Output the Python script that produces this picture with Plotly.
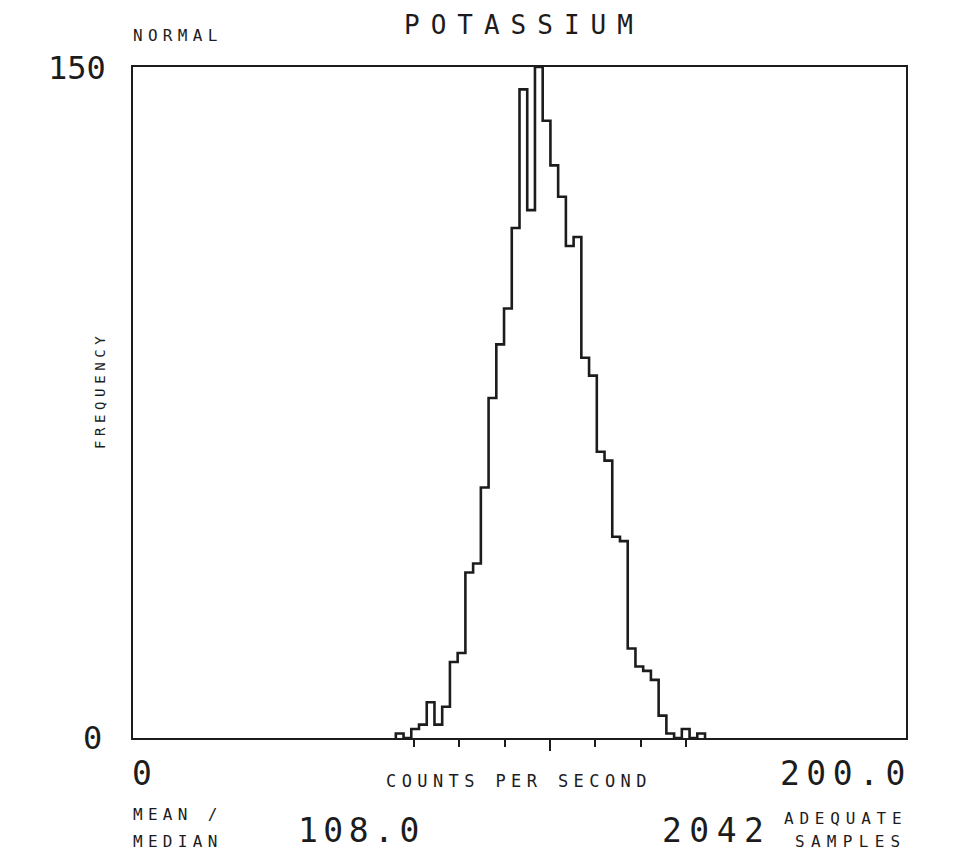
import plotly.graph_objects as go

# ---- data ----
bin_left_edges = list(range(68, 148, 2))          # counts per second, bin starts
bin_width = 2
frequency = [1, 0, 2, 3, 8, 3, 7, 17, 19, 37,
             39, 56, 76, 88, 96, 114, 145, 118, 150, 138,
             128, 121, 110, 112, 85, 81, 64, 62, 45, 44,
             20, 16, 15, 13, 5, 1, 0, 2, 0, 1]
x_range = [0, 200.0]
y_range = [0, 150]
mean_median = 108.0
sd_ticks = [72.7, 84.4, 96.2, 119.6, 131.5, 143.2]
adequate_samples = 2042

# ---- step outline built from the data ----
edges = bin_left_edges + [bin_left_edges[-1] + bin_width]
step_x = [edges[0]] + bin_left_edges + [edges[-1]]
step_y = [0] + frequency + [0]

INK = "#1c1c1c"
FONT = "DejaVu Sans Mono"

fig = go.Figure()
fig.add_trace(go.Scatter(x=step_x, y=step_y, mode="lines",
                         line=dict(shape="hv", color=INK, width=2.6),
                         hoverinfo="skip", showlegend=False))
# invisible trace to activate the mean-tick axis
fig.add_trace(go.Scatter(x=[mean_median], y=[0], xaxis="x2", mode="markers",
                         marker=dict(opacity=0), hoverinfo="skip", showlegend=False))

BODY = 8                       # default page margin around the plot div
L, R, T, B = 125, 49, 59, 125
W, H = 947, 855
PW, PH = W - L - R, H - T - B


def px(xp):
    return (xp - BODY - L) / PW


def py(yp):
    return (BODY + T + PH - yp) / PH


def label(text, x, y, size, spacing, xanchor="left", angle=0):
    return dict(text=f'<span style="letter-spacing:{spacing}px">{text}</span>',
                x=px(x), y=py(y), xref="paper", yref="paper",
                xanchor=xanchor, yanchor="middle", showarrow=False,
                textangle=angle, font=dict(family=FONT, size=size, color=INK))


annotations = [
    label("NORMAL", 131, 35, 16, 5.3),
    label("POTASSIUM", 524, 25, 26, 11.0, "center"),
    label(f"{y_range[1]}", 108, 68, 32, 0, "right"),
    label(f"{y_range[0]}", 104, 738, 32, 0, "right"),
    label("FREQUENCY", 100, 391, 14, 4.6, "center", -90),
    label(f"{x_range[0]}", 130, 773, 33, 6, "left"),
    label("COUNTS PER SECOND", 519, 781, 17, 5.4, "center"),
    label(f"{x_range[1]:.1f}", 914, 773, 33, 6.5, "right"),
    label("MEAN /", 131, 815, 16, 5.3),
    label("MEDIAN", 131, 841, 16, 5.3),
    label(f"{mean_median:.1f}", 296, 830, 33, 5.5),
    label(f"{adequate_samples}", 660, 830, 33, 7.5),
    label("ADEQUATE", 909, 818, 16, 5.8, "right"),
    label("SAMPLES", 909, 841, 16, 6.3, "right"),
]

fig.update_layout(
    width=W, height=H,
    margin=dict(l=L, r=R, t=T, b=B),
    paper_bgcolor="white", plot_bgcolor="white",
    showlegend=False,
    xaxis=dict(range=x_range, showgrid=False, zeroline=False,
               showline=True, linecolor=INK, linewidth=1.6, mirror=True,
               tickvals=sd_ticks, ticks="outside", ticklen=7, tickwidth=1.6,
               tickcolor=INK, showticklabels=False),
    xaxis2=dict(range=x_range, overlaying="x", anchor="y", side="bottom",
                showgrid=False, zeroline=False, showline=False,
                tickvals=[mean_median], ticks="outside", ticklen=12,
                tickwidth=1.6, tickcolor=INK, showticklabels=False),
    yaxis=dict(range=y_range, showgrid=False, zeroline=False,
               showline=True, linecolor=INK, linewidth=1.6, mirror=True,
               ticks="", showticklabels=False),
    annotations=annotations,
)

fig.write_html("out.html")
